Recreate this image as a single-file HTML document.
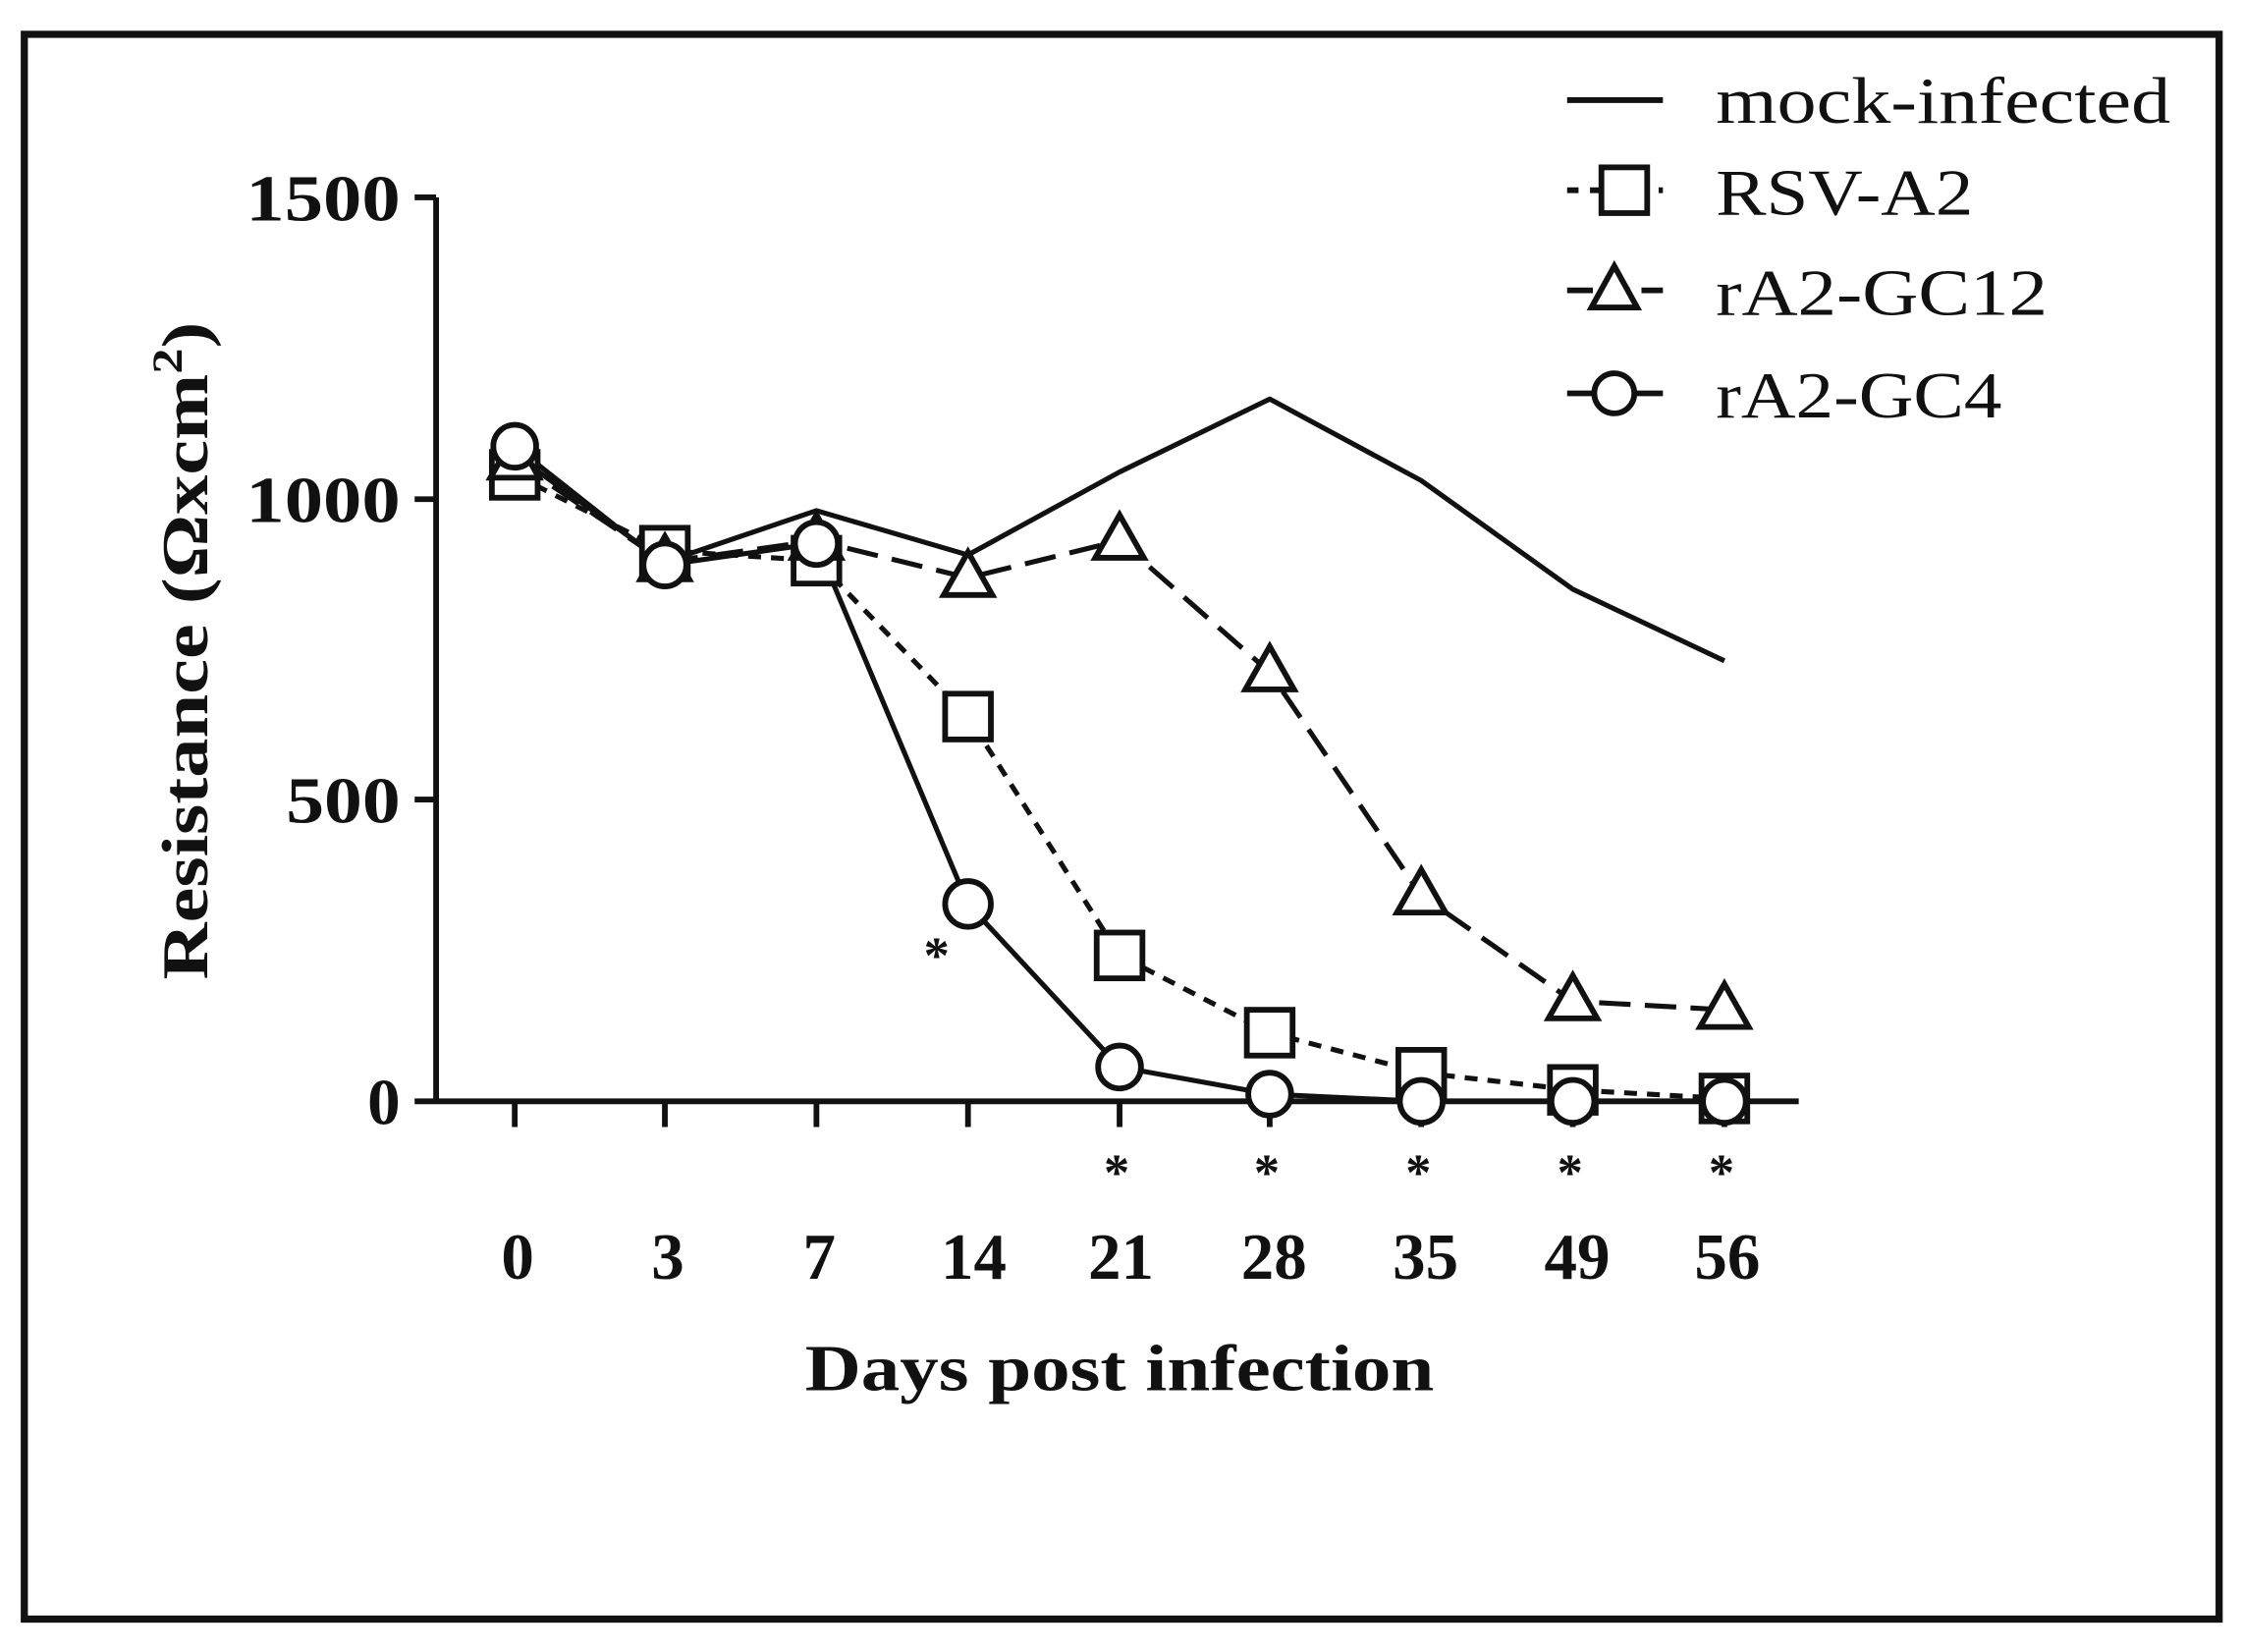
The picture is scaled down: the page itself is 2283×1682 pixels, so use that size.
<!DOCTYPE html>
<html><head><meta charset="utf-8"><style>
html,body{margin:0;padding:0;background:#fff;}
svg{display:block;}
text{font-family:"Liberation Serif",serif;fill:#111;}
</style></head><body>
<svg width="2283" height="1682" viewBox="0 0 1568 1155" preserveAspectRatio="none" xmlns="http://www.w3.org/2000/svg">
<rect x="0" y="0" width="1568" height="1155" fill="#fff"/>
<rect x="17" y="24" width="1535" height="1108" fill="none" stroke="#111" stroke-width="5"/>
<g stroke="#111" stroke-width="4" fill="none">
<path d="M305 138 V772 M290 138 H305 M290 349 H305 M290 559 H305 M290 770 H305 M303 770 H1258"/>
<path d="M360 770 V788 M465 770 V788 M571 770 V788 M677 770 V788 M783 770 V788 M888 770 V788 M994 770 V788 M1100 770 V788 M1206 770 V788"/>
</g>
<g font-weight="bold" font-size="46" text-anchor="end">
<text x="280" y="154" textLength="108" lengthAdjust="spacingAndGlyphs">1500</text>
<text x="280" y="365" textLength="108" lengthAdjust="spacingAndGlyphs">1000</text>
<text x="280" y="575" textLength="80" lengthAdjust="spacingAndGlyphs">500</text>
<text x="280" y="786">0</text>
</g>
<g font-weight="bold" font-size="46" text-anchor="middle">
<text x="362" y="894">0</text><text x="467" y="894">3</text><text x="573" y="894">7</text>
<text x="681" y="894">14</text><text x="784" y="894">21</text><text x="891" y="894">28</text>
<text x="997" y="894">35</text><text x="1103" y="894">49</text><text x="1208" y="894">56</text>
<text x="783" y="972" textLength="440" lengthAdjust="spacingAndGlyphs">Days post infection</text>
<text transform="translate(145,455) rotate(-90)" textLength="460" lengthAdjust="spacingAndGlyphs">Resistance (Ωxcm<tspan font-size="30" dy="-18">2</tspan><tspan dy="18">)</tspan></text>
</g>
<g font-weight="bold" font-size="36" text-anchor="middle">
<text x="655" y="680">*</text><text x="781" y="832">*</text><text x="886" y="832">*</text>
<text x="992" y="832">*</text><text x="1098" y="832">*</text><text x="1204" y="832">*</text>
</g>
<g stroke="#111" stroke-width="3.5" fill="none" stroke-linejoin="round">
<polyline points="360,318 465,393 571,357 677,388 783,330 888,279 994,336 1100,412 1206,462"/>
<polyline stroke-dasharray="9,7" points="360,332 465,385 571,392 677,501 783,668 888,722 994,750 1100,762 1206,768"/>
<polyline stroke-dasharray="22,10" points="360,322 465,393 571,378 677,404 783,378 888,470 994,626 1100,700 1206,706"/>
<polyline points="360,312 465,395 571,380 677,632 783,746 888,765 994,770 1100,770 1206,770"/>
</g>
<g stroke="#111" stroke-width="4" fill="#fff">
<!-- squares -->
<rect x="344" y="316" width="32" height="32"/><rect x="449" y="369" width="32" height="32"/>
<rect x="555" y="376" width="32" height="32"/><rect x="661" y="485" width="32" height="32"/>
<rect x="767" y="652" width="32" height="32"/><rect x="872" y="706" width="32" height="32"/>
<rect x="978" y="734" width="32" height="32"/><rect x="1084" y="746" width="32" height="32"/>
<rect x="1190" y="752" width="32" height="32"/>
<!-- triangles -->
<path d="M360 304 L377 334 L343 334 Z"/><path d="M465 375 L482 405 L448 405 Z"/>
<path d="M571 360 L588 390 L554 390 Z"/><path d="M677 386 L694 416 L660 416 Z"/>
<path d="M783 360 L800 390 L766 390 Z"/><path d="M888 452 L905 482 L871 482 Z"/>
<path d="M994 608 L1011 638 L977 638 Z"/><path d="M1100 682 L1117 712 L1083 712 Z"/>
<path d="M1206 688 L1223 718 L1189 718 Z"/>
<!-- circles -->
<circle cx="360" cy="312" r="15"/><circle cx="465" cy="395" r="15"/><circle cx="571" cy="380" r="15"/>
<circle cx="677" cy="632" r="16"/><circle cx="783" cy="746" r="15"/><circle cx="888" cy="765" r="15"/>
<circle cx="994" cy="770" r="15"/><circle cx="1100" cy="770" r="15"/><circle cx="1206" cy="770" r="15"/>
</g>
<!-- legend -->
<g stroke="#111" stroke-width="4" fill="#fff">
<path d="M1096 70 H1163"/>
<path d="M1096 133 H1163" stroke-dasharray="8,8"/>
<rect x="1120" y="117" width="32" height="32"/>
<path d="M1096 203 H1163" stroke-dasharray="18,8"/>
<path d="M1129 186 L1145 215 L1113 215 Z"/>
<path d="M1096 275 H1163"/>
<circle cx="1129" cy="275" r="14"/>
</g>
<g font-size="46">
<text x="1200" y="86" textLength="318" lengthAdjust="spacingAndGlyphs">mock-infected</text>
<text x="1200" y="150" textLength="180" lengthAdjust="spacingAndGlyphs">RSV-A2</text>
<text x="1200" y="220" textLength="232" lengthAdjust="spacingAndGlyphs">rA2-GC12</text>
<text x="1200" y="292" textLength="200" lengthAdjust="spacingAndGlyphs">rA2-GC4</text>
</g>
</svg>
</body></html>
